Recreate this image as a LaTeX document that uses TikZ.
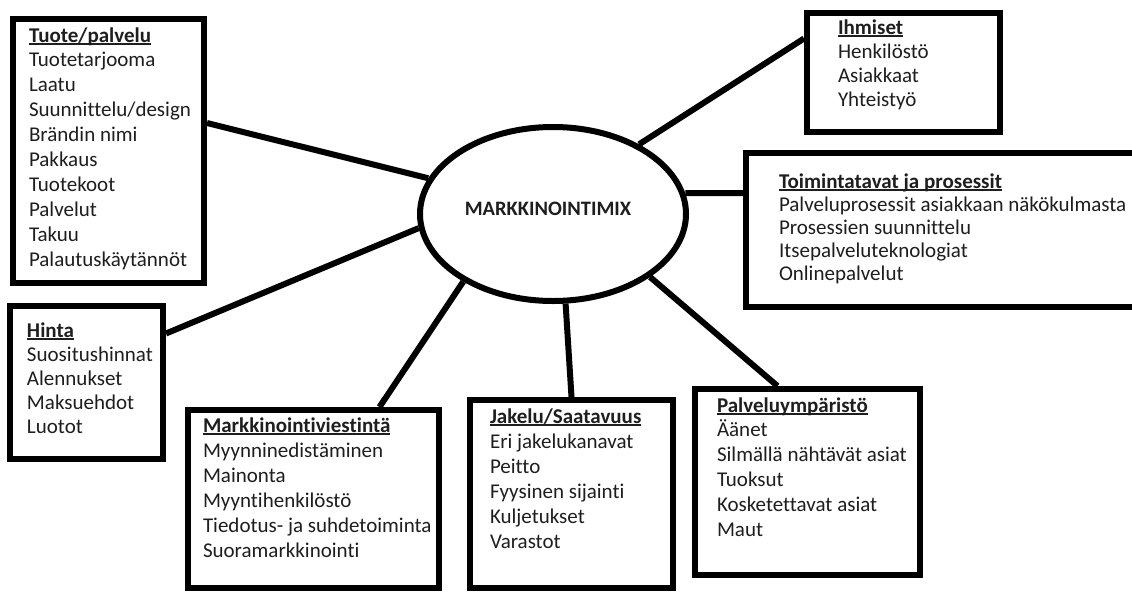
\documentclass[tikz,border=0pt]{standalone}
\usepackage{fontspec}
\setmainfont{Carlito}[Ligatures={NoCommon},Kerning=On]
\usetikzlibrary{shapes.geometric}
\definecolor{ink}{HTML}{1E1E1E}
\newcommand\hdr[1]{\setbox0\hbox{\bfseries #1}\rlap{\rule[-2.6pt]{\wd0}{1.5pt}}\box0}
\newcommand\btext[2]{{\fontsize{21}{#1}\selectfont\begin{tabular}[t]{@{}l@{}}#2\end{tabular}}}
\begin{document}
\begin{tikzpicture}[x=1pt,y=-1pt,
  box/.style={draw,line width=6pt,rectangle,inner sep=0pt},
  link/.style={line width=6pt},
  txt/.style={anchor=base west,inner sep=0pt,outer sep=0pt,text=ink}]
\useasboundingbox (0,0) rectangle (1132,592);
\fill[white] (0,0) rectangle (1132,592);
\clip (0,0) rectangle (1132,592);
% boxes
\node[box,minimum width=191pt,minimum height=264pt] (tuote) at (108.5,151) {};
\node[box,minimum width=193pt,minimum height=119pt] (ihm) at (903.5,72.5) {};
\node[box,minimum width=399pt,minimum height=154pt] (toim) at (945.5,230) {};
\node[box,minimum width=153pt,minimum height=153pt] (hinta) at (86.5,382.5) {};
\node[box,minimum width=251pt,minimum height=178pt] (markk) at (313.5,499) {};
\node[box,minimum width=203pt,minimum height=188pt] (jakelu) at (571.5,494) {};
\node[box,minimum width=225pt,minimum height=186pt] (palv) at (807.5,482) {};
% centre
\node[draw,ellipse,line width=6pt,minimum width=266pt,minimum height=174pt,inner sep=0pt] (mix) at (553,214) {};
\node[inner sep=0pt,text=ink,font=\fontsize{20.5}{24}\selectfont\bfseries] (mixlabel) at (548,209) {MARKKINOINTIMIX};
% connectors
\draw[link] ([yshift=28pt]tuote.east) -- (mix.164);
\draw[link] ([yshift=49pt]hinta.east) -- (mix.186);
\draw[link] ([xshift=66pt]markk.north) -- (mix.217);
\draw[link] (jakelu.north) -- (mix.278);
\draw[link] ([xshift=-30pt]palv.north) -- (mix.327);
\draw[link] ([yshift=34pt]ihm.west) -- (mix.39);
\draw[link] ([yshift=37pt]toim.west) -- (mix.9);
% texts
\node[txt] (tuotetxt) at (29,42) {\btext{24.9}{\hdr{Tuote/palvelu}\\Tuotetarjooma\\Laatu\\Suunnittelu/design\\Brändin nimi\\Pakkaus\\Tuotekoot\\Palvelut\\Takuu\\Palautuskäytännöt}};
\node[txt] (ihmtxt) at (838,34) {\btext{24}{\hdr{Ihmiset}\\Henkilöstö\\Asiakkaat\\Yhteistyö}};
\node[txt] (toimtxt) at (779,188) {\btext{23}{\hdr{Toimintatavat ja prosessit}\\Palveluprosessit asiakkaan näkökulmasta\\Prosessien suunnittelu\\Itsepalveluteknologiat\\Onlinepalvelut}};
\node[txt] (hintatxt) at (27,337) {\btext{24}{\hdr{Hinta}\\Suositushinnat\\Alennukset\\Maksuehdot\\Luotot}};
\node[txt] (markktxt) at (203,432) {\btext{25}{\hdr{Markkinointiviestintä}\\Myynninedistäminen\\Mainonta\\Myyntihenkilöstö\\Tiedotus- ja suhdetoiminta\\Suoramarkkinointi}};
\node[txt] (jakelutxt) at (490,423) {\btext{25}{\hdr{Jakelu/Saatavuus}\\Eri jakelukanavat\\Peitto\\Fyysinen sijainti\\Kuljetukset\\Varastot}};
\node[txt] (palvtxt) at (717,412) {\btext{24.8}{\hdr{Palveluympäristö}\\Äänet\\Silmällä nähtävät asiat\\Tuoksut\\Kosketettavat asiat\\Maut}};
\end{tikzpicture}
\end{document}
